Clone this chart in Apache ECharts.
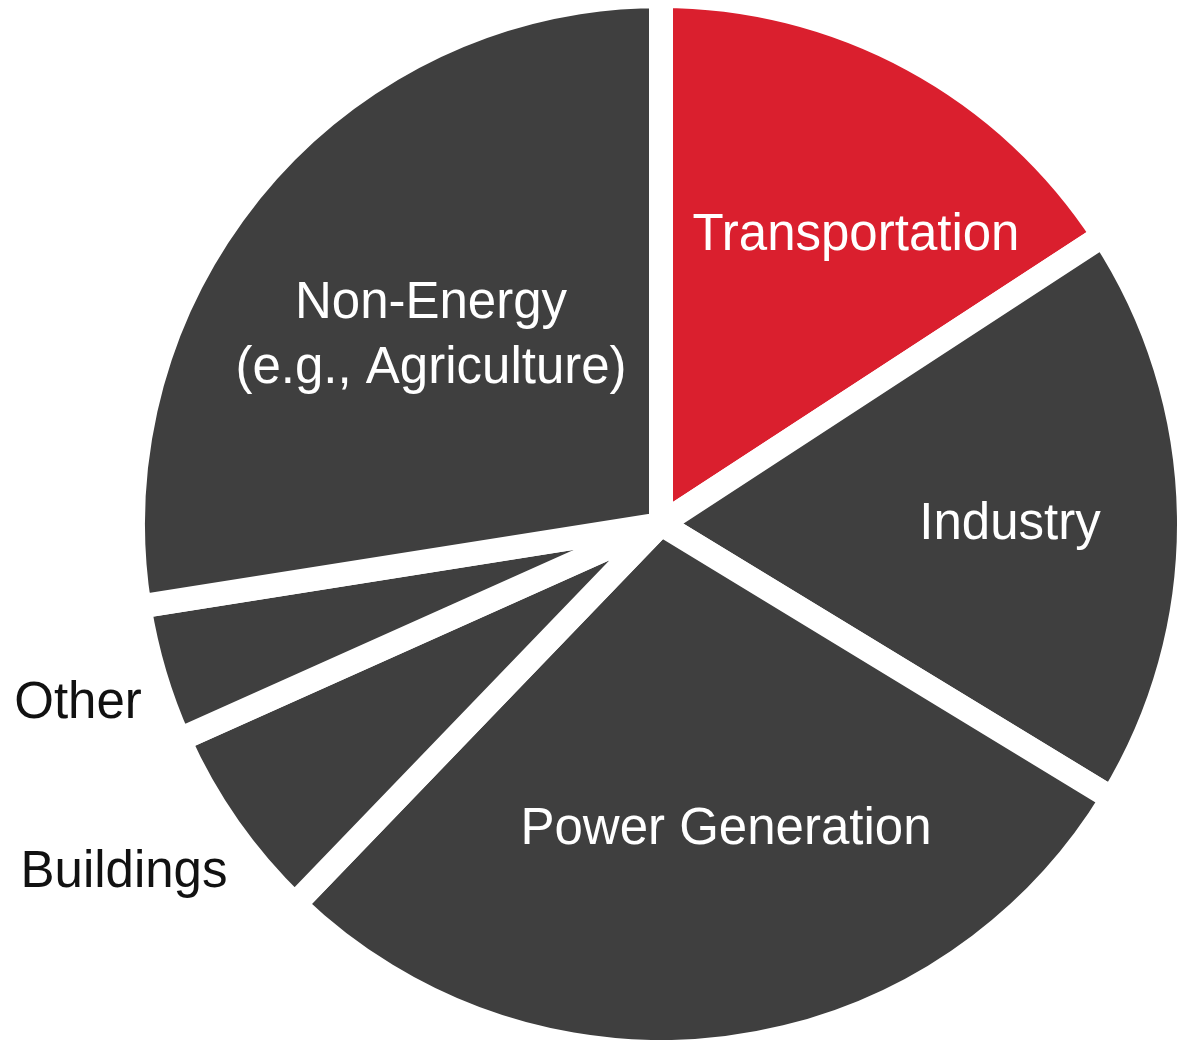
<!DOCTYPE html>
<html>
<head>
<meta charset="utf-8">
<script src="https://cdn.jsdelivr.net/npm/echarts@6/dist/echarts.min.js"></script>
<style>
  html, body { margin: 0; padding: 0; background: #ffffff; }
  #chart { width: 1180px; height: 1040px; }
</style>
</head>
<body>
<div id="chart"></div>
<script>
// Emission shares by sector (percent), clockwise from 12 o'clock
const sectors = ['Transportation', 'Industry', 'Power Generation', 'Buildings', 'Other', 'Non-Energy\n(e.g., Agriculture)'];
const shares = [15.8, 17.9, 28.5, 6.1, 4.2, 27.5];
const sliceColors = ['#DA1F2E', '#3F3F3F', '#3F3F3F', '#3F3F3F', '#3F3F3F', '#3F3F3F'];
const labelColors = ['#ffffff', '#ffffff', '#ffffff', '#111111', '#111111', '#ffffff'];

// Where each sector name sits on the canvas
const labelSpots = {
  'Transportation': [856, 236],
  'Industry': [1010, 525],
  'Power Generation': [726, 830],
  'Buildings': [124, 873],
  'Other': [78, 704],
  'Non-Energy\n(e.g., Agriculture)': [431, 336]
};

const chart = echarts.init(document.getElementById('chart'), null, { renderer: 'canvas' });

chart.setOption({
  backgroundColor: '#ffffff',
  animation: false,
  series: [{
    type: 'pie',
    center: [661, 524],
    radius: [0, 528],
    startAngle: 90,
    clockwise: true,
    avoidLabelOverlap: false,
    silent: true,
    itemStyle: { borderColor: '#ffffff', borderWidth: 24 },
    label: {
      show: true,
      position: 'inside',
      fontFamily: '"Liberation Sans", Arial, sans-serif',
      fontSize: 51,
      lineHeight: 65,
      align: 'center',
      verticalAlign: 'middle',
      formatter: '{b}'
    },
    labelLine: { show: false },
    labelLayout: function (p) {
      const spot = labelSpots[p.text] || labelSpots[p.name];
      if (!spot) return {};
      return { x: spot[0], y: spot[1], align: 'center', verticalAlign: 'middle' };
    },
    data: sectors.map((name, i) => ({
      name: name,
      value: shares[i],
      itemStyle: { color: sliceColors[i] },
      label: { color: labelColors[i] }
    }))
  }]
});
</script>
</body>
</html>
